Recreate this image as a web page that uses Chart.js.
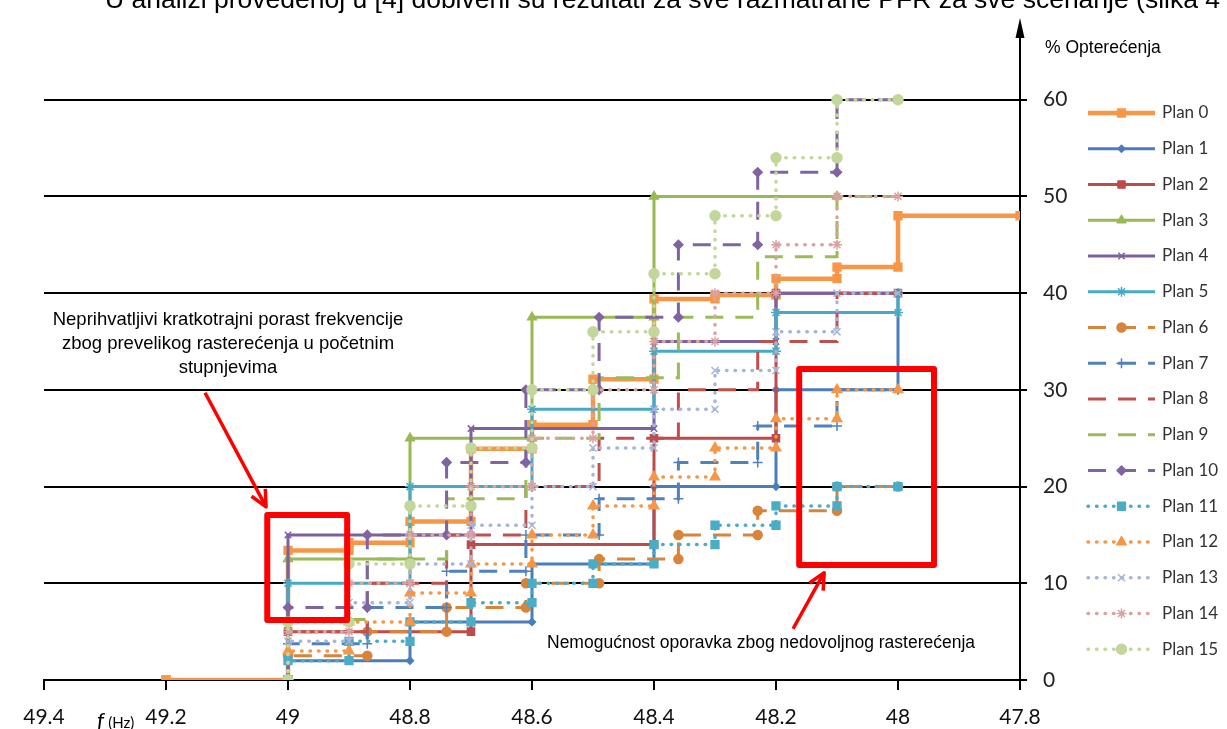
<!DOCTYPE html>
<html>
<head>
<meta charset="utf-8">
<script src="https://cdn.jsdelivr.net/npm/chart.js@4.4.1/dist/chart.umd.min.js"></script>
<style>
  html, body { margin: 0; padding: 0; background: #fff; overflow: hidden; }
  #wrap { position: relative; width: 1227px; height: 729px; overflow: hidden; }
  #chart-box { position: absolute; left: 0; top: 0; width: 1227px; height: 729px; }
  .note { position: absolute; font-family: "Liberation Sans", Arial, sans-serif; color: #000; white-space: nowrap; }
</style>
</head>
<body>
<div id="wrap">
  <div id="chart-box"><canvas id="plans-chart"></canvas></div>
  <div class="note" style="left:105px; top:-16px; font-size:26.5px;">U analizi provedenoj u [4] dobiveni su rezultati za sve razmatrane PFR za sve scenarije (slika 4</div>
  <div class="note" style="left:228px; top:307px; font-size:18.5px; line-height:24px; text-align:center; transform:translateX(-50%);">Neprihvatljivi kratkotrajni porast frekvencije<br>zbog prevelikog rasterećenja u početnim<br>stupnjevima</div>
  <div class="note" style="left:547px; top:632px; font-size:17.5px; background:#fff;">Nemogućnost oporavka zbog nedovoljnog rasterećenja</div>
  <div class="note" style="left:1045px; top:37px; font-size:17.5px;">% Opterećenja</div>
  <div class="note" style="left:97px; top:706px; font-family:Lato, sans-serif;"><span style="font-style:italic; font-size:22px;">f</span> <span style="font-size:15px;">(Hz)</span></div>
</div>
<script>
const planNames = ["Plan 0", "Plan 1", "Plan 2", "Plan 3", "Plan 4", "Plan 5", "Plan 6", "Plan 7",
  "Plan 8", "Plan 9", "Plan 10", "Plan 11", "Plan 12", "Plan 13", "Plan 14", "Plan 15"];
const xTicks = [49.4, 49.2, 49, 48.8, 48.6, 48.4, 48.2, 48, 47.8];
const yTicks = [0, 10, 20, 30, 40, 50, 60];

// step frequencies (Hz) and load after each step (%)
const plan0F = [49.2, 49, 48.9, 48.8, 48.7, 48.6, 48.5, 48.4, 48.3, 48.2, 48.1, 48, 47.8];
const plan0V = [0, 13.4, 14.2, 16.4, 23.9, 26.4, 31.1, 39.4, 39.8, 41.5, 42.7, 48];
const plan1F = [49, 48.8, 48.6, 48.4, 48.2, 48];
const plan1V = [2, 6, 12, 20, 30, 40];
const plan2F = [49, 48.7, 48.4, 48.2, 48];
const plan2V = [5, 14, 25, 40];
const plan3F = [49, 48.8, 48.6, 48.4, 48.1];
const plan3V = [12.5, 25, 37.5, 50];
const plan4F = [49, 48.7, 48.4, 48.2, 48];
const plan4V = [15, 26, 35, 40];
const plan5F = [49, 48.8, 48.6, 48.4, 48.2, 48];
const plan5V = [10, 20, 28, 34, 38, 40];

const dashedF = [49, 48.87, 48.74, 48.61, 48.49, 48.36, 48.23, 48.1, 48];
const plan6V = [2.5, 5, 7.5, 10, 12.5, 15, 17.5, 20];
const plan7V = [3.75, 7.5, 11.25, 15, 18.75, 22.5, 26.25, 30];
const plan8V = [5, 10, 15, 20, 25, 30, 35, 40];
const plan9V = [6.25, 12.5, 18.75, 25, 31.25, 37.5, 43.75, 50];
const plan10V = [7.5, 15, 22.5, 30, 37.5, 45, 52.5, 60];

const dottedF = [49, 48.9, 48.8, 48.7, 48.6, 48.5, 48.4, 48.3, 48.2, 48.1, 48];
const plan11V = [2, 4, 6, 8, 10, 12, 14, 16, 18, 20];
const plan12V = [3, 6, 9, 12, 15, 18, 21, 24, 27, 30];
const plan13V = [4, 8, 12, 16, 20, 24, 28, 32, 36, 40];
const plan14V = [5, 10, 15, 20, 25, 30, 35, 40, 45, 50];
const plan15V = [6, 12, 18, 24, 30, 36, 42, 48, 54, 60];

const series = [
  [plan0F, plan0V], [plan1F, plan1V], [plan2F, plan2V], [plan3F, plan3V], [plan4F, plan4V], [plan5F, plan5V],
  [dashedF, plan6V], [dashedF, plan7V], [dashedF, plan8V], [dashedF, plan9V], [dashedF, plan10V],
  [dottedF, plan11V], [dottedF, plan12V], [dottedF, plan13V], [dottedF, plan14V], [dottedF, plan15V]
];

const planColors = ["#F79646", "#4A7EBB", "#BE4B48", "#98B954", "#7D60A0", "#46AAC5",
  "#D8843A", "#4F81BD", "#C0504D", "#9BBB59", "#8064A2",
  "#4BACC6", "#F79646", "#A5B5DA", "#D9A3A2", "#C3D69B"];
const planMarkers = ["rect", "rectRot", "rect", "triangle", "crossRot", "star",
  "circle", "cross", false, false, "rectRot",
  "rect", "triangle", "crossRot", "star", "circle"];
const markerSize = [5.5, 3.5, 5, 5, 4.5, 5, 4.5, 5, 0, 0, 4.5, 5.5, 5.5, 5, 5, 5];

function lineKind(i) {
  if (i <= 5) return "solid";
  if (i <= 10) return "dashed";
  return "dotted";
}

function dashFor(i) {
  const kind = lineKind(i);
  if (kind === "dashed") return [18, 12];
  if (kind === "dotted") return [0.5, 8];
  return [];
}

// turn step lists into the corner points of a staircase
function stepPoints(freqs, loads) {
  const pts = [{ x: freqs[0], y: 0 }];
  loads.forEach((v, i) => {
    pts.push({ x: freqs[i], y: v });
    if (i + 1 < freqs.length) pts.push({ x: freqs[i + 1], y: v });
  });
  return pts;
}

const datasets = series.map(([f, v], i) => ({
  label: planNames[i],
  data: stepPoints(f, v),
  borderColor: planColors[i],
  backgroundColor: planColors[i],
  borderWidth: i === 0 ? 4.5 : (lineKind(i) === "dotted" ? 3.5 : 3),
  borderDash: dashFor(i),
  borderCapStyle: lineKind(i) === "dotted" ? "round" : "butt",
  pointStyle: planMarkers[i],
  pointRadius: markerSize[i],
  pointBorderWidth: 1.5,
  pointBackgroundColor: planColors[i],
  pointBorderColor: planColors[i],
  tension: 0,
  fill: false,
  order: 15 - i
}));

// annotation boxes / arrows in data units (f, %)
const leftBox = { f1: 49.034, f2: 48.903, v1: 17.06, v2: 6.2 };
const rightBox = { f1: 48.162, f2: 47.941, v1: 32.16, v2: 11.89 };
const leftArrow = { f1: 49.136, v1: 29.7, f2: 49.036, v2: 17.9 };
const rightArrow = { f1: 48.172, v1: 5.3, f2: 48.121, v2: 11.1 };

function drawArrow(ctx, x1, y1, x2, y2) {
  const ang = Math.atan2(y2 - y1, x2 - x1);
  ctx.beginPath();
  ctx.moveTo(x1, y1);
  ctx.lineTo(x2, y2);
  ctx.stroke();
  const len = 18;
  ctx.beginPath();
  ctx.moveTo(x2 - len * Math.cos(ang - 0.45), y2 - len * Math.sin(ang - 0.45));
  ctx.lineTo(x2, y2);
  ctx.lineTo(x2 - len * Math.cos(ang + 0.45), y2 - len * Math.sin(ang + 0.45));
  ctx.stroke();
}

const decor = {
  id: "decor",
  afterDraw(chart) {
    const ctx = chart.ctx;
    const xs = chart.scales.x;
    const ys = chart.scales.y;
    const area = chart.chartArea;
    ctx.save();

    // arrow on top of the load axis
    ctx.fillStyle = "#000";
    ctx.strokeStyle = "#000";
    ctx.lineWidth = 2;
    ctx.beginPath();
    ctx.moveTo(area.right, area.top);
    ctx.lineTo(area.right, 30);
    ctx.stroke();
    ctx.beginPath();
    ctx.moveTo(area.right, 18);
    ctx.lineTo(area.right - 4.5, 38);
    ctx.lineTo(area.right + 4.5, 38);
    ctx.closePath();
    ctx.fill();

    // red boxes and arrows
    ctx.strokeStyle = "#FF0000";
    ctx.lineWidth = 6;
    ctx.lineJoin = "round";
    [leftBox, rightBox].forEach(b => {
      const x1 = xs.getPixelForValue(b.f1), x2 = xs.getPixelForValue(b.f2);
      const y1 = ys.getPixelForValue(b.v1), y2 = ys.getPixelForValue(b.v2);
      ctx.strokeRect(x1, y1, x2 - x1, y2 - y1);
    });
    ctx.lineWidth = 3.5;
    [leftArrow, rightArrow].forEach(a => {
      drawArrow(ctx, xs.getPixelForValue(a.f1), ys.getPixelForValue(a.v1),
        xs.getPixelForValue(a.f2), ys.getPixelForValue(a.v2));
    });

    // legend: line sample with marker, then name
    chart.data.datasets.forEach((ds, i) => {
      const y = 113 + i * 35.75;
      ctx.strokeStyle = ds.borderColor;
      ctx.fillStyle = ds.borderColor;
      ctx.lineWidth = ds.borderWidth;
      ctx.lineCap = ds.borderCapStyle;
      ctx.setLineDash(ds.borderDash);
      ctx.beginPath();
      ctx.moveTo(1088, y);
      ctx.lineTo(1155, y);
      ctx.stroke();
      ctx.setLineDash([]);
      ctx.lineCap = "butt";
      ctx.lineWidth = 1.5;
      if (ds.pointStyle) {
        Chart.helpers.drawPoint(ctx, { pointStyle: ds.pointStyle, radius: ds.pointRadius, borderWidth: 1.5, rotation: 0 }, 1121.5, y);
      }
      ctx.fillStyle = "#333";
      ctx.font = "17px Lato, sans-serif";
      ctx.textBaseline = "middle";
      ctx.textAlign = "left";
      ctx.fillText(ds.label, 1162, y);
    });
    ctx.restore();
  }
};

const chart = new Chart(document.getElementById("plans-chart"), {
  type: "line",
  data: { datasets },
  options: {
    responsive: true,
    maintainAspectRatio: false,
    animation: false,
    layout: { padding: { left: 44, top: 32, right: 0, bottom: 0 } },
    plugins: { legend: { display: false }, tooltip: { enabled: false } },
    scales: {
      x: {
        type: "linear",
        reverse: true,
        min: 47.8,
        max: 49.4,
        afterBuildTicks: axis => { axis.ticks = xTicks.map(v => ({ value: v })); },
        afterFit: scale => { scale.height = 49; },
        grid: { drawOnChartArea: false, drawTicks: true, tickLength: 10, color: "#000", lineWidth: 2 },
        border: { display: true, color: "#000", width: 2 },
        ticks: {
          padding: 15,
          color: "#111",
          maxRotation: 0,
          autoSkip: false,
          font: { family: "Lato", size: 21 },
          callback: v => String(+Number(v).toFixed(1))
        }
      },
      y: {
        position: "right",
        min: 0,
        max: 67,
        afterBuildTicks: axis => { axis.ticks = yTicks.map(v => ({ value: v })); },
        afterFit: scale => { scale.width = 207; },
        grid: { color: "#000", lineWidth: 2, tickLength: 7 },
        border: { display: true, color: "#000", width: 2 },
        ticks: {
          padding: 16,
          color: "#222",
          font: { family: "Lato", size: 21 },
          callback: v => String(v)
        }
      }
    }
  },
  plugins: [decor]
});
</script>
</body>
</html>
